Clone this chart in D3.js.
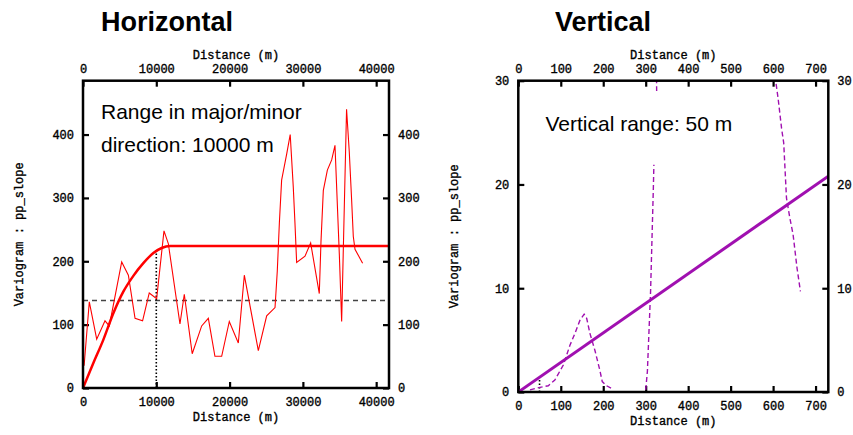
<!DOCTYPE html>
<html>
<head>
<meta charset="utf-8">
<script src="https://cdn.jsdelivr.net/npm/d3@7"></script>
<style>
  body { margin: 0; background: #fff; }
  svg { display: block; }
</style>
</head>
<body>
<svg id="chart" width="853" height="435"></svg>
<script>
// ---------------- DATA ----------------
const titles = ["Horizontal", "Vertical"];
const xLabel = "Distance (m)";
const yLabel = "Variogram : pp_slope";

// Horizontal panel
const hXTicks = [0, 10000, 20000, 30000, 40000];
const hYTicks = [0, 100, 200, 300, 400];
const hXMax = 41750, hYMax = 485;
const hExpDist = [150, 860, 1870, 3000, 3590, 5280, 6190, 7100, 8130, 9040, 10050, 11050, 11640, 13230, 13820, 14900, 16190, 17100, 18000, 18920, 19960, 21190, 22010, 23920, 25060, 26200, 26510, 26790, 27100, 27800, 28270, 28690, 28920, 29150, 30290, 31060, 32240, 32470, 32790, 33340, 33930, 34380, 34970, 35290, 35960, 36330, 36650, 36880, 37110, 38150];
const hExpGamma = [35, 136, 77, 106, 98, 199, 178, 110, 106, 150, 141, 248, 228, 101, 148, 54, 98, 110, 50, 50, 105, 71, 178, 59, 114, 127, 185, 260, 328, 370, 400, 317, 260, 198, 208, 229, 149, 231, 312, 344, 360, 383, 212, 105, 440, 373, 297, 239, 219, 197];
const hModelDist = [0, 1400, 2770, 4140, 5500, 6870, 8230, 9600, 10730, 11870, 41750];
const hModelGamma = [0, 39, 76, 118, 152, 177, 197, 213, 221, 224, 224];
const hSill = 138;
const hRange = 10000, hRangeGamma = 219;
const hText = ["Range in major/minor", "direction: 10000 m"];

// Vertical panel
const vXTicks = [0, 100, 200, 300, 400, 500, 600, 700];
const vYTicks = [0, 10, 20, 30];
const vXMax = 730, vYMax = 30;
const vExpDist = [27.5, 51, 70.6, 86, 106, 121.6, 133.4, 145, 155, 161, 168.7, 180.5, 192, 197.7, 208, 223.5,
                  null,
                  300, 304, 311.5, 318, 319.3,
                  null,
                  325.4, 325.8,
                  null,
                  604, 606.4, 611.8, 620, 625, 631.5, 639.3, 647, 656.5, 664.4];
const vExpGamma = [0.2, 0.45, 0.6, 1.15, 2.6, 4.5, 5.65, 6.9, 7.5, 7.1, 5.65, 4.0, 2.1, 1.0, 0.6, 0.26,
                   null,
                   0.2, 2.0, 9.7, 19.6, 21.9,
                   null,
                   31, 29,
                   null,
                   32, 29.9, 28.3, 25.4, 24.0, 18.7, 16.8, 15.2, 11.9, 9.7];
const vModelDist = [0, 730];
const vModelGamma = [0, 20.8];
const vRange = 50, vRangeGamma = 1.4;
const vText = ["Vertical range: 50 m"];

// ---------------- DRAW ----------------
const svg = d3.select("#chart");
const RED = "#ff0000";
const PURPLE = "#a010b0";
const monoFont = "'Liberation Mono', 'DejaVu Sans Mono', monospace";
const sansFont = "'Liberation Sans', Arial, sans-serif";

function monoStyle(sel, size) {
  sel.style("font-family", monoFont).style("font-size", size + "px")
    .attr("fill", "#000").attr("stroke", "#000").attr("stroke-width", 0.35);
}

function panel(cfg) {
  const {left, right, top, bottom} = cfg.box;
  const x = d3.scaleLinear().domain([0, cfg.xMax]).range([left, right]);
  const y = d3.scaleLinear().domain([0, cfg.yMax]).range([bottom, top]);
  const g = svg.append("g");

  const clipId = "clip" + cfg.id;
  svg.append("defs").append("clipPath").attr("id", clipId)
    .append("rect").attr("x", left).attr("y", top)
    .attr("width", right - left).attr("height", bottom - top);

  const tickLen = 6;
  const axB = d3.axisBottom(x).tickValues(cfg.xTicks).tickSize(-tickLen).tickPadding(9).tickFormat(d3.format("d"));
  const axT = d3.axisTop(x).tickValues(cfg.xTicks).tickSize(-tickLen).tickPadding(8).tickFormat(d3.format("d"));
  const axL = d3.axisLeft(y).tickValues(cfg.yTicks).tickSize(-tickLen).tickPadding(9).tickFormat(d3.format("d"));
  const axR = d3.axisRight(y).tickValues(cfg.yTicks).tickSize(-tickLen).tickPadding(9).tickFormat(d3.format("d"));

  const axes = [
    g.append("g").attr("transform", `translate(0,${bottom})`).call(axB),
    g.append("g").attr("transform", `translate(0,${top})`).call(axT),
    g.append("g").attr("transform", `translate(${left},0)`).call(axL),
    g.append("g").attr("transform", `translate(${right},0)`).call(axR)
  ];
  axes.forEach(a => {
    a.select(".domain").remove();
    a.selectAll(".tick line").attr("stroke", "#000").attr("stroke-width", 2.2);
    monoStyle(a.selectAll(".tick text"), 12);
  });

  const dg = g.append("g").attr("clip-path", `url(#${clipId})`);
  cfg.draw(dg, x, y);

  g.append("rect").attr("x", left).attr("y", top)
    .attr("width", right - left).attr("height", bottom - top)
    .attr("fill", "none").attr("stroke", "#000").attr("stroke-width", 2.5);

  const cx = (left + right) / 2;
  monoStyle(g.append("text").attr("x", cx).attr("y", top - 22).attr("text-anchor", "middle").text(xLabel), 12);
  monoStyle(g.append("text").attr("x", cx).attr("y", bottom + 33).attr("text-anchor", "middle").text(xLabel), 12);
  monoStyle(g.append("text")
    .attr("transform", `translate(${cfg.yLabelX},${(top + bottom) / 2}) rotate(-90)`)
    .attr("text-anchor", "middle").attr("dy", "0.35em").text(yLabel), 12);

  g.append("text").attr("x", cfg.titleX).attr("y", 31)
    .style("font-family", sansFont).style("font-size", "27px").style("font-weight", "bold")
    .text(cfg.title);

  cfg.text.forEach((t, i) => {
    g.append("text").attr("x", cfg.textX).attr("y", cfg.textY + i * 32.7)
      .style("font-family", sansFont).style("font-size", "21px").text(t);
  });
}

panel({
  id: "h", title: titles[0], titleX: 101,
  box: {left: 83, right: 389, top: 80.7, bottom: 388},
  xMax: hXMax, yMax: hYMax, xTicks: hXTicks, yTicks: hYTicks,
  yLabelX: 18.5, text: hText, textX: 101, textY: 119,
  draw(g, x, y) {
    g.append("line").attr("x1", x(0)).attr("x2", x(hXMax)).attr("y1", y(hSill)).attr("y2", y(hSill))
      .attr("stroke", "#444").attr("stroke-width", 1.4).attr("stroke-dasharray", "5,4");
    g.append("line").attr("x1", x(hRange)).attr("x2", x(hRange)).attr("y1", y(0)).attr("y2", y(hRangeGamma))
      .attr("stroke", "#000").attr("stroke-width", 1.6).attr("stroke-dasharray", "1.5,2");
    const exp = hExpDist.map((d, i) => [d, hExpGamma[i]]);
    g.append("path").datum(exp)
      .attr("d", d3.line().x(d => x(d[0])).y(d => y(d[1])))
      .attr("fill", "none").attr("stroke", RED).attr("stroke-width", 1.1);
    const mod = hModelDist.map((d, i) => [d, hModelGamma[i]]);
    g.append("path").datum(mod)
      .attr("d", d3.line().curve(d3.curveMonotoneX).x(d => x(d[0])).y(d => y(d[1])))
      .attr("fill", "none").attr("stroke", RED).attr("stroke-width", 2.5);
  }
});

panel({
  id: "v", title: titles[1], titleX: 555,
  box: {left: 518.3, right: 828.3, top: 80.7, bottom: 392},
  xMax: vXMax, yMax: vYMax, xTicks: vXTicks, yTicks: vYTicks,
  yLabelX: 454, text: vText, textX: 545.5, textY: 131,
  draw(g, x, y) {
    g.append("line").attr("x1", x(vRange)).attr("x2", x(vRange)).attr("y1", y(0)).attr("y2", y(vRangeGamma))
      .attr("stroke", "#000").attr("stroke-width", 1.6).attr("stroke-dasharray", "1.5,2");
    const exp = vExpDist.map((d, i) => [d, vExpGamma[i]]);
    g.append("path").datum(exp)
      .attr("d", d3.line().defined(d => d[0] !== null && d[1] !== null).x(d => x(d[0])).y(d => y(d[1])))
      .attr("fill", "none").attr("stroke", PURPLE).attr("stroke-width", 1.4).attr("stroke-dasharray", "5,3");
    const mod = vModelDist.map((d, i) => [d, vModelGamma[i]]);
    g.append("path").datum(mod)
      .attr("d", d3.line().x(d => x(d[0])).y(d => y(d[1])))
      .attr("fill", "none").attr("stroke", PURPLE).attr("stroke-width", 3);
  }
});
</script>
</body>
</html>
